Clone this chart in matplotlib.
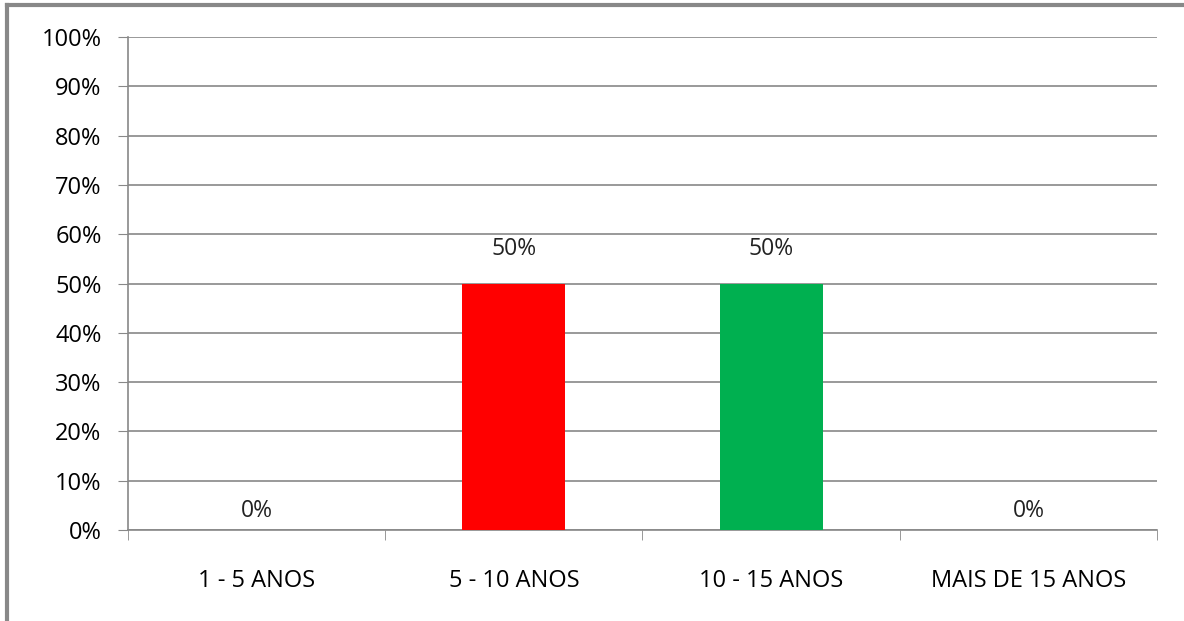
import matplotlib.pyplot as plt
from matplotlib.lines import Line2D
import numpy as np

plt.rcParams['font.family'] = ['Open Sans', 'DejaVu Sans']

categorias = ['1 - 5 ANOS', '5 - 10 ANOS', '10 - 15 ANOS', 'MAIS DE 15 ANOS']
valores = [0, 50, 50, 0]
cores = ['#4F81BD', '#FF0000', '#00B050', '#4F81BD']
y_ticks = np.arange(0, 101, 10)

fig = plt.figure(figsize=(11.84, 6.21), dpi=100)
ax = fig.add_axes([0.1081, 0.1465, 0.8691, 0.7939])

x = np.arange(len(categorias))
rects = ax.bar(x, valores, 0.4, color=cores, zorder=3)

for rect, v in zip(rects, valores):
    pad = 5 if v == 0 else 16
    ax.annotate(f'{v}%', (rect.get_x() + rect.get_width() / 2, v),
                xytext=(0, pad), textcoords='offset points',
                ha='center', va='bottom', fontsize=16.5, color='#222222')

ax.set_xlim(-0.5, len(categorias) - 0.5)
ax.set_ylim(0, 100)
ax.set_yticks(y_ticks, [f'{t}%' for t in y_ticks])
ax.set_xticks(x, categorias)
ax.set_xticks(np.arange(-0.5, len(categorias)), minor=True)
ax.tick_params(axis='x', which='major', length=0, pad=28, labelsize=17)
ax.tick_params(axis='x', which='minor', length=7, color='#888888')
ax.tick_params(axis='y', length=7, color='#888888', labelsize=17, pad=12)
ax.yaxis.grid(True, color='#888888', linewidth=1.2, zorder=0)

for s in ['top', 'right']:
    ax.spines[s].set_visible(False)
for s in ['left', 'bottom']:
    ax.spines[s].set_color('#888888')
    ax.spines[s].set_linewidth(1.2)

# moldura cinza (só esquerda e topo visíveis)
fig.add_artist(Line2D([0.0059, 0.0059], [0, 0.9920], transform=fig.transFigure,
                      color='#888888', linewidth=3))
fig.add_artist(Line2D([0.0059, 1], [0.9920, 0.9920], transform=fig.transFigure,
                      color='#888888', linewidth=3))

plt.savefig('out.png', dpi=100)
